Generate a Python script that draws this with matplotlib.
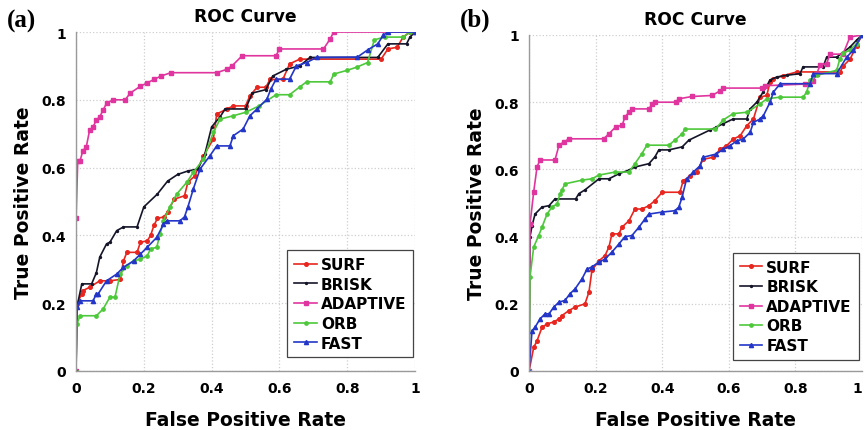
import matplotlib
matplotlib.use('Agg')
import matplotlib.pyplot as plt

# ---- panel (a) ----
a_surf_x = [0, 0.002, 0.017, 0.02, 0.04, 0.07, 0.10, 0.13, 0.14, 0.15, 0.18, 0.19, 0.21, 0.22, 0.23, 0.24, 0.26, 0.27,
            0.29, 0.32, 0.33, 0.35, 0.376, 0.405, 0.415, 0.445, 0.464, 0.50, 0.513, 0.534, 0.56, 0.572, 0.61, 0.63,
            0.66, 0.90, 0.92, 0.947, 0.965, 0.985, 1.0]
a_surf_y = [0, 0.198, 0.227, 0.237, 0.247, 0.266, 0.266, 0.27, 0.325, 0.35, 0.35, 0.38, 0.384, 0.40, 0.43, 0.45, 0.455,
            0.47, 0.507, 0.517, 0.557, 0.575, 0.635, 0.684, 0.758, 0.773, 0.782, 0.782, 0.812, 0.837, 0.837, 0.86,
            0.86, 0.906, 0.92, 0.92, 0.95, 0.955, 0.985, 1.0, 1.0]

a_brisk_x = [0, 0.003, 0.017, 0.046, 0.06, 0.07, 0.09, 0.10, 0.12, 0.14, 0.18, 0.20, 0.24, 0.27, 0.30, 0.33, 0.36,
             0.38, 0.40, 0.425, 0.44, 0.50, 0.52, 0.56, 0.58, 0.62, 0.66, 0.69, 0.89, 0.92, 0.975, 0.985, 1.0]
a_brisk_y = [0, 0.19, 0.257, 0.257, 0.29, 0.336, 0.375, 0.38, 0.414, 0.425, 0.425, 0.484, 0.522, 0.56, 0.58, 0.59,
             0.596, 0.64, 0.72, 0.75, 0.773, 0.773, 0.82, 0.83, 0.87, 0.89, 0.90, 0.925, 0.925, 0.965, 0.965, 0.985, 1.0]

a_adapt_x = [0, 0.0, 0.005, 0.012, 0.02, 0.03, 0.04, 0.05, 0.06, 0.07, 0.08, 0.09, 0.11, 0.145, 0.16, 0.19, 0.21,
             0.23, 0.25, 0.28, 0.415, 0.445, 0.46, 0.49, 0.59, 0.60, 0.73, 0.75, 0.76, 1.0]
a_adapt_y = [0, 0.45, 0.62, 0.62, 0.65, 0.66, 0.71, 0.72, 0.74, 0.75, 0.77, 0.79, 0.80, 0.80, 0.82, 0.84, 0.85,
             0.86, 0.87, 0.88, 0.88, 0.89, 0.90, 0.93, 0.93, 0.95, 0.95, 0.98, 1.0, 1.0]

a_orb_x = [0, 0.002, 0.012, 0.06, 0.08, 0.10, 0.115, 0.13, 0.15, 0.17, 0.19, 0.21, 0.22, 0.238, 0.248, 0.258, 0.277,
           0.297, 0.327, 0.346, 0.376, 0.405, 0.425, 0.464, 0.50, 0.54, 0.59, 0.63, 0.66, 0.68, 0.75, 0.76, 0.80,
           0.83, 0.86, 0.88, 0.91, 0.965, 0.985, 1.0]
a_orb_y = [0, 0.138, 0.163, 0.163, 0.183, 0.218, 0.218, 0.286, 0.31, 0.325, 0.33, 0.34, 0.36, 0.365, 0.404, 0.443,
           0.484, 0.522, 0.557, 0.586, 0.625, 0.704, 0.743, 0.753, 0.763, 0.782, 0.815, 0.815, 0.838, 0.853, 0.853,
           0.876, 0.887, 0.897, 0.91, 0.977, 0.985, 0.985, 1.0, 1.0]

a_fast_x = [0, 0.002, 0.012, 0.05, 0.06, 0.065, 0.09, 0.12, 0.14, 0.17, 0.19, 0.21, 0.238, 0.258, 0.268, 0.307,
            0.32, 0.33, 0.346, 0.366, 0.395, 0.415, 0.454, 0.464, 0.493, 0.513, 0.534, 0.563, 0.575, 0.59, 0.63,
            0.65, 0.68, 0.71, 0.83, 0.86, 0.89, 0.906, 0.92, 1.0]
a_fast_y = [0, 0.189, 0.207, 0.207, 0.227, 0.227, 0.266, 0.286, 0.306, 0.325, 0.345, 0.365, 0.394, 0.433, 0.443,
            0.443, 0.455, 0.484, 0.537, 0.596, 0.635, 0.664, 0.664, 0.694, 0.714, 0.753, 0.773, 0.802, 0.832, 0.861,
            0.861, 0.90, 0.91, 0.925, 0.926, 0.947, 0.965, 0.99, 1.0, 1.0]

# ---- panel (b) ----
b_surf_x = [0, 0.014, 0.024, 0.039, 0.054, 0.074, 0.09, 0.099, 0.12, 0.138, 0.168, 0.18, 0.189, 0.21, 0.228, 0.24,
            0.249, 0.27, 0.279, 0.30, 0.318, 0.339, 0.36, 0.378, 0.40, 0.453, 0.463, 0.483, 0.503, 0.523, 0.553,
            0.574, 0.593, 0.613, 0.634, 0.654, 0.674, 0.694, 0.714, 0.724, 0.734, 0.764, 0.804, 0.934, 0.944, 0.964,
            0.984, 1.0]
b_surf_y = [0, 0.07, 0.09, 0.13, 0.14, 0.146, 0.155, 0.165, 0.18, 0.19, 0.20, 0.235, 0.30, 0.328, 0.343, 0.369,
            0.408, 0.408, 0.428, 0.447, 0.482, 0.482, 0.492, 0.507, 0.532, 0.532, 0.566, 0.58, 0.592, 0.63, 0.636,
            0.66, 0.67, 0.69, 0.70, 0.73, 0.75, 0.815, 0.82, 0.86, 0.87, 0.879, 0.89, 0.89, 0.908, 0.928, 0.968, 1.0]

b_brisk_x = [0, 0.003, 0.009, 0.018, 0.039, 0.06, 0.078, 0.14, 0.15, 0.168, 0.21, 0.24, 0.27, 0.30, 0.318, 0.36,
             0.378, 0.39, 0.42, 0.46, 0.48, 0.543, 0.563, 0.583, 0.613, 0.654, 0.664, 0.684, 0.703, 0.724, 0.744,
             0.774, 0.814, 0.823, 0.883, 0.894, 0.924, 0.964, 0.984, 1.0]
b_brisk_y = [0, 0.40, 0.432, 0.467, 0.488, 0.492, 0.512, 0.512, 0.528, 0.539, 0.572, 0.572, 0.587, 0.598, 0.607,
             0.617, 0.637, 0.658, 0.658, 0.667, 0.687, 0.717, 0.726, 0.736, 0.75, 0.75, 0.78, 0.80, 0.83, 0.866,
             0.875, 0.88, 0.885, 0.905, 0.905, 0.934, 0.934, 0.964, 0.985, 1.0]

b_adapt_x = [0, 0.003, 0.014, 0.024, 0.033, 0.078, 0.09, 0.104, 0.12, 0.224, 0.24, 0.26, 0.28, 0.288, 0.30, 0.31,
             0.36, 0.37, 0.378, 0.44, 0.45, 0.49, 0.55, 0.574, 0.583, 0.70, 0.71, 0.83, 0.853, 0.864, 0.874, 0.894,
             0.904, 0.943, 0.964, 1.0]
b_adapt_y = [0, 0.437, 0.533, 0.607, 0.628, 0.628, 0.672, 0.681, 0.691, 0.691, 0.706, 0.726, 0.732, 0.756, 0.77,
             0.78, 0.78, 0.795, 0.80, 0.80, 0.81, 0.817, 0.82, 0.834, 0.842, 0.842, 0.849, 0.854, 0.864, 0.884, 0.91,
             0.915, 0.943, 0.943, 0.994, 1.0]

b_orb_x = [0, 0.003, 0.014, 0.029, 0.039, 0.054, 0.069, 0.084, 0.093, 0.099, 0.108, 0.159, 0.189, 0.21, 0.258,
           0.30, 0.318, 0.339, 0.354, 0.42, 0.438, 0.46, 0.468, 0.56, 0.583, 0.613, 0.654, 0.694, 0.714, 0.754,
           0.823, 0.834, 0.844, 0.864, 0.924, 0.934, 0.944, 0.964, 0.984, 1.0]
b_orb_y = [0, 0.28, 0.369, 0.403, 0.428, 0.467, 0.488, 0.497, 0.527, 0.539, 0.557, 0.568, 0.572, 0.583, 0.592,
           0.592, 0.617, 0.647, 0.672, 0.672, 0.687, 0.706, 0.72, 0.72, 0.747, 0.766, 0.77, 0.795, 0.81, 0.815,
           0.815, 0.83, 0.866, 0.88, 0.895, 0.93, 0.945, 0.956, 0.974, 1.0]

b_fast_x = [0, 0.009, 0.018, 0.033, 0.048, 0.06, 0.074, 0.09, 0.108, 0.123, 0.138, 0.159, 0.174, 0.189, 0.21,
            0.228, 0.249, 0.27, 0.288, 0.309, 0.33, 0.348, 0.36, 0.40, 0.438, 0.45, 0.46, 0.473, 0.493, 0.513,
            0.523, 0.563, 0.583, 0.603, 0.624, 0.643, 0.664, 0.674, 0.694, 0.704, 0.724, 0.734, 0.754, 0.844,
            0.854, 0.924, 0.954, 0.974, 1.0]
b_fast_y = [0, 0.12, 0.13, 0.155, 0.17, 0.17, 0.19, 0.205, 0.21, 0.23, 0.244, 0.274, 0.303, 0.31, 0.324, 0.333,
            0.354, 0.378, 0.40, 0.403, 0.428, 0.452, 0.467, 0.473, 0.477, 0.488, 0.518, 0.571, 0.592, 0.61, 0.636,
            0.646, 0.66, 0.67, 0.685, 0.69, 0.71, 0.74, 0.75, 0.76, 0.80, 0.83, 0.855, 0.855, 0.885, 0.885, 0.934,
            0.955, 1.0]

labels = ['SURF', 'BRISK', 'ADAPTIVE', 'ORB', 'FAST']
ticks = [0, 0.2, 0.4, 0.6, 0.8, 1]
tick_labels = ['0', '0.2', '0.4', '0.6', '0.8', '1']

# colour, marker, marker size for each detector
styles = [('#e8261f', 'o', 2.6), ('#15152a', 'o', 1.4), ('#e0359e', 's', 2.8),
          ('#4dc83a', 'o', 2.4), ('#2336c8', '^', 3.0)]

plt.rcParams['font.family'] = ['DejaVu Sans']
plt.rcParams['font.weight'] = 'bold'

fig = plt.figure(figsize=(8.65, 4.31), dpi=100)
ax_a = fig.add_axes([0.0879, 0.1369, 0.3919, 0.7865])
ax_b = fig.add_axes([0.6116, 0.1369, 0.3849, 0.7796])

panels = [
    (ax_a, '(a)', [(a_surf_x, a_surf_y), (a_brisk_x, a_brisk_y), (a_adapt_x, a_adapt_y),
                   (a_orb_x, a_orb_y), (a_fast_x, a_fast_y)], (0.995, 0.04), (-0.204, 1.035)),
    (ax_b, '(b)', [(b_surf_x, b_surf_y), (b_brisk_x, b_brisk_y), (b_adapt_x, b_adapt_y),
                   (b_orb_x, b_orb_y), (b_fast_x, b_fast_y)], (0.99, 0.033), (-0.207, 1.048)),
]

for ax, tag, curves, leg_pos, tag_pos in panels:
    for (xs, ys), (col, mk, ms), lab in zip(curves, styles, labels):
        ax.plot(xs, ys, color=col, marker=mk, markersize=ms, linewidth=1.2, label=lab)
    ax.set_xlim(0, 1)
    ax.set_ylim(0, 1)
    ax.set_xticks(ticks)
    ax.set_xticklabels(tick_labels)
    ax.set_yticks(ticks)
    ax.set_yticklabels(tick_labels)
    ax.tick_params(length=0, labelsize=10, pad=7)
    ax.grid(True, linestyle=':', color='#cfcfcf', linewidth=0.9)
    for side in ['top', 'right']:
        ax.spines[side].set_visible(False)
    for side in ['left', 'bottom']:
        ax.spines[side].set_color('#9a9a9a')
        ax.spines[side].set_linewidth(1.0)
    ax.set_xlabel('False Positive Rate', fontsize=13.5, fontweight='bold', labelpad=11)
    ax.set_ylabel('True Positive Rate', fontsize=13.5, fontweight='bold', labelpad=6)
    ax.set_title('ROC Curve', fontsize=12.3, fontweight='bold', pad=8)
    leg = ax.legend(loc='lower right', bbox_to_anchor=leg_pos, fontsize=11, fancybox=False,
                    framealpha=1, edgecolor='#444444', handlelength=1.5, handletextpad=0.25,
                    labelspacing=0.3, borderpad=0.45, borderaxespad=0.0, numpoints=1)
    leg.get_frame().set_linewidth(0.9)
    ax.text(tag_pos[0], tag_pos[1], tag, transform=ax.transAxes, fontsize=18, fontweight='bold',
            family=['Liberation Serif', 'DejaVu Serif'], ha='left', va='center')

# the "1" at the right edge of panel (b) would be clipped by the figure border
ax_b.get_xticklabels()[-1].set_horizontalalignment('right')

fig.savefig('out.png', dpi=100)
